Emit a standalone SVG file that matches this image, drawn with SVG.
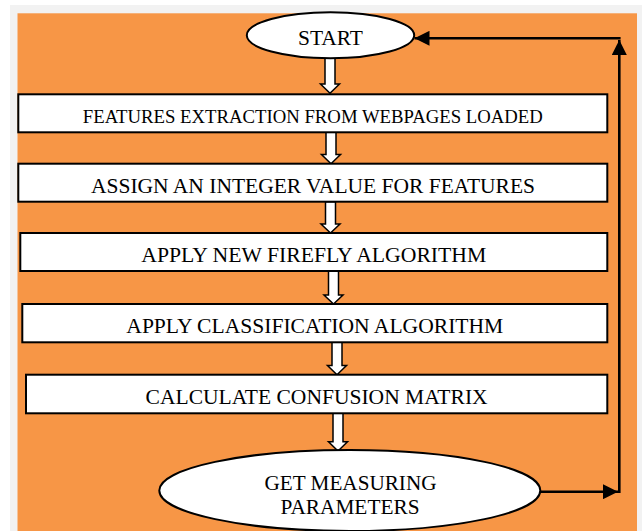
<svg xmlns="http://www.w3.org/2000/svg" width="642" height="531" viewBox="0 0 642 531">
  <style>
    .node { fill: #ffffff; stroke: #000000; stroke-width: 2; }
    .label { font-family: "Liberation Serif", "Times New Roman", serif; fill: #000000; text-anchor: middle; }
    .flow { fill: #ffffff; stroke: #000000; stroke-width: 1.5; stroke-linejoin: miter; }
    .loop { fill: none; stroke: #000000; stroke-width: 2.6; }
  </style>
  <defs>
    <marker id="head" viewBox="0 0 15 15" refX="15" refY="7.5" markerWidth="15" markerHeight="15" markerUnits="userSpaceOnUse" orient="auto">
      <path d="M0,0 L15,7.5 L0,15 Z" fill="#000000"/>
    </marker>
  </defs>

  <!-- background -->
  <rect x="0" y="0" width="642" height="531" fill="#ffffff"/>
  <rect x="10" y="5" width="632" height="526" fill="#f2f2f2"/>
  <rect x="17.5" y="13.3" width="619.5" height="517.7" fill="#f79646"/>

  <!-- connectors -->
  <g id="connectors">
    <polygon class="flow" points="325,58 335,58 335,84 339.5,84 330,93.3 320.5,84 325,84"/>
    <polygon class="flow" points="326,132.3 336,132.3 336,154.5 340.5,154.5 331,163.7 321.5,154.5 326,154.5"/>
    <polygon class="flow" points="325.5,201.7 335.5,201.7 335.5,224 340,224 330.5,233 321,224 325.5,224"/>
    <polygon class="flow" points="328.5,271 338.5,271 338.5,295 343,295 333.5,304 324,295 328.5,295"/>
    <polygon class="flow" points="332,342.3 342,342.3 342,365.5 346.5,365.5 337,374.7 327.5,365.5 332,365.5"/>
    <polygon class="flow" points="333,413.3 343,413.3 343,441.7 347.5,441.7 338,451 328.5,441.7 333,441.7"/>
    <path class="loop" d="M540,491.7 H618" marker-end="url(#head)"/>
    <path class="loop" d="M619.3,493 V40" marker-end="url(#head)"/>
    <path class="loop" d="M620.6,38.3 H414.5" marker-end="url(#head)"/>
  </g>

  <g id="start">
    <ellipse class="node" cx="330.5" cy="35.3" rx="83.7" ry="23"/>
    <text class="label" x="330.5" y="45" font-size="20.5" textLength="65" lengthAdjust="spacingAndGlyphs">START</text>
  </g>

  <g id="features-extraction">
    <rect class="node" x="18.3" y="94.3" width="589" height="38"/>
    <text class="label" x="312.8" y="122.7" font-size="18.8" textLength="460" lengthAdjust="spacingAndGlyphs">FEATURES EXTRACTION FROM WEBPAGES LOADED</text>
  </g>

  <g id="assign-integer">
    <rect class="node" x="18.3" y="163.7" width="589" height="38"/>
    <text class="label" x="313" y="192.7" font-size="21" textLength="444" lengthAdjust="spacingAndGlyphs">ASSIGN AN INTEGER VALUE FOR FEATURES</text>
  </g>

  <g id="firefly">
    <rect class="node" x="20.3" y="233" width="587" height="38"/>
    <text class="label" x="313.8" y="262.2" font-size="21" textLength="345" lengthAdjust="spacingAndGlyphs">APPLY NEW FIREFLY ALGORITHM</text>
  </g>

  <g id="classification">
    <rect class="node" x="22.3" y="304" width="585" height="38.3"/>
    <text class="label" x="314.8" y="333.2" font-size="21" textLength="377" lengthAdjust="spacingAndGlyphs">APPLY CLASSIFICATION ALGORITHM</text>
  </g>

  <g id="confusion">
    <rect class="node" x="26" y="374.7" width="581.3" height="38.6"/>
    <text class="label" x="316.6" y="404.4" font-size="21" textLength="342" lengthAdjust="spacingAndGlyphs">CALCULATE CONFUSION MATRIX</text>
  </g>

  <g id="measuring">
    <ellipse class="node" cx="349.8" cy="490.5" rx="190.5" ry="40.5"/>
    <text class="label" x="350.5" y="490" font-size="21" textLength="172" lengthAdjust="spacingAndGlyphs">GET MEASURING</text>
    <text class="label" x="350" y="514" font-size="21" textLength="139" lengthAdjust="spacingAndGlyphs">PARAMETERS</text>
  </g>
</svg>
